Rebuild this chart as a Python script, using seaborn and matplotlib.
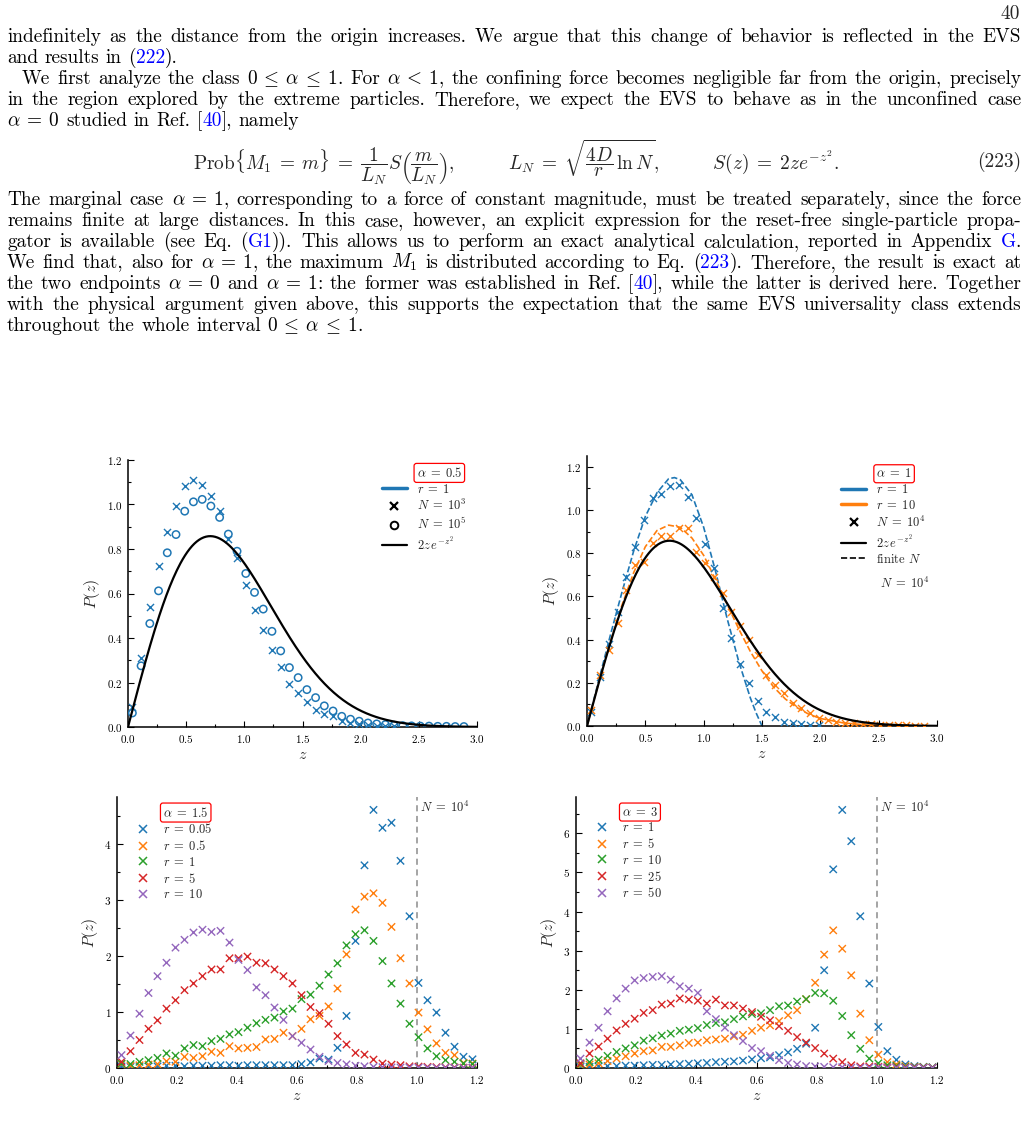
"""Page 40: EVS text block and the four P(z) panels."""
import matplotlib
matplotlib.use("Agg")
import matplotlib.pyplot as plt
import numpy as np
import pandas as pd
import seaborn as sns
from matplotlib.lines import Line2D
from matplotlib.ticker import MultipleLocator
from matplotlib.transforms import IdentityTransform, blended_transform_factory


# ---------------------------------------------------------------- data ----
# bin centres of the histograms (top panels: width 0.075, bottom: 0.03)
Z_TOP = [0.0375, 0.1125, 0.1875, 0.2625, 0.3375, 0.4125, 0.4875, 0.5625,
         0.6375, 0.7125, 0.7875, 0.8625, 0.9375, 1.0125, 1.0875, 1.1625,
         1.2375, 1.3125, 1.3875, 1.4625, 1.5375, 1.6125, 1.6875, 1.7625,
         1.8375, 1.9125, 1.9875, 2.0625, 2.1375, 2.2125, 2.2875, 2.3625,
         2.4375, 2.5125, 2.5875, 2.6625, 2.7375, 2.8125, 2.8875]
Z_BOT = [0.015, 0.045, 0.075, 0.105, 0.135, 0.165, 0.195, 0.225, 0.255,
         0.285, 0.315, 0.345, 0.375, 0.405, 0.435, 0.465, 0.495, 0.525,
         0.555, 0.585, 0.615, 0.645, 0.675, 0.705, 0.735, 0.765, 0.795,
         0.825, 0.855, 0.885, 0.915, 0.945, 0.975, 1.005, 1.035, 1.065,
         1.095, 1.125, 1.155, 1.185]

# alpha = 0.5, r = 1
A05_N1E3 = [0.09, 0.312, 0.54, 0.725, 0.877, 0.995, 1.085, 1.108, 1.087,
            1.038, 0.97, 0.843, 0.76, 0.64, 0.528, 0.435, 0.345, 0.27,
            0.195, 0.155, 0.113, 0.075, 0.06, 0.048, 0.027, 0.018, 0.013,
            0.008, 0.006, 0.004, 0.003]
A05_N1E5 = [0.063, 0.275, 0.465, 0.612, 0.783, 0.865, 0.97, 1.012, 1.023,
            0.993, 0.942, 0.867, 0.79, 0.69, 0.605, 0.53, 0.43, 0.342,
            0.267, 0.222, 0.168, 0.132, 0.095, 0.072, 0.048, 0.035, 0.026,
            0.018, 0.014, 0.011, 0.008, 0.006, 0.005, 0.004, 0.004, 0.003,
            0.003, 0.002, 0.002]

# alpha = 1, N = 1e4
A1_R1 = [0.066, 0.228, 0.38, 0.53, 0.69, 0.83, 0.953, 1.054, 1.072, 1.112,
         1.118, 1.058, 0.964, 0.842, 0.733, 0.548, 0.406, 0.287, 0.197,
         0.116, 0.063, 0.04, 0.02, 0.012, 0.008, 0.005, 0.003]
A1_R10 = [0.074, 0.236, 0.35, 0.475, 0.63, 0.745, 0.76, 0.845, 0.879, 0.879,
          0.915, 0.915, 0.807, 0.753, 0.69, 0.614, 0.53, 0.464, 0.398, 0.329,
          0.236, 0.19, 0.151, 0.105, 0.082, 0.059, 0.039, 0.028, 0.02, 0.015,
          0.012, 0.009, 0.007, 0.005, 0.004, 0.003, 0.003, 0.002, 0.002]
FIN_R1_Z = [0.0, 0.1, 0.2, 0.3, 0.4, 0.5, 0.6, 0.7, 0.75, 0.8, 0.9, 1.0,
            1.1, 1.2, 1.3, 1.4, 1.45, 1.5]
FIN_R1_P = [0.0, 0.21, 0.42, 0.62, 0.81, 0.97, 1.08, 1.145, 1.15, 1.14,
            1.07, 0.92, 0.72, 0.50, 0.30, 0.13, 0.06, 0.0]
FIN_R10_Z = [0.0, 0.1, 0.2, 0.3, 0.4, 0.5, 0.6, 0.7, 0.8, 0.9, 1.0, 1.1,
             1.2, 1.3, 1.4, 1.5, 1.6, 1.7, 1.8, 1.9, 2.0, 2.2, 2.4, 2.6, 2.9]
FIN_R10_P = [0.0, 0.20, 0.39, 0.56, 0.71, 0.83, 0.905, 0.93, 0.92, 0.87,
             0.79, 0.68, 0.565, 0.45, 0.345, 0.255, 0.18, 0.125, 0.085,
             0.055, 0.035, 0.014, 0.005, 0.002, 0.0]

# alpha = 1.5, N = 1e4
A15_LABELS = [r"$r\;=\;0.05$", r"$r\;=\;0.5$", r"$r\;=\;1$", r"$r\;=\;5$",
              r"$r\;=\;10$"]
A15_R005 = [0.03, 0.02, 0.03, 0.03, 0.03, 0.04, 0.04, 0.03, 0.04, 0.04,
            0.04, 0.05, 0.05, 0.04, 0.05, 0.05, 0.05, 0.05, 0.05, 0.05,
            0.07, 0.10, 0.17, 0.15, 0.36, 0.93, 2.27, 3.62, 4.61, 4.29,
            4.38, 3.70, 2.71, 1.52, 1.21, 0.99, 0.63, 0.38, 0.20, 0.155]
A15_R05 = [0.07, 0.04, 0.05, 0.06, 0.07, 0.12, 0.11, 0.20, 0.18, 0.21,
           0.29, 0.27, 0.39, 0.35, 0.36, 0.375, 0.51, 0.52, 0.63, 0.57,
           0.70, 0.87, 0.93, 1.10, 1.42, 2.03, 2.83, 3.06, 3.12, 2.95,
           2.52, 1.96, 1.51, 0.99, 0.69, 0.44, 0.27, 0.23, 0.09, 0.08]
A15_R1 = [0.08, 0.07, 0.11, 0.14, 0.18, 0.26, 0.22, 0.35, 0.41, 0.39,
          0.48, 0.52, 0.60, 0.64, 0.72, 0.80, 0.86, 0.90, 1.01, 1.06,
          1.23, 1.31, 1.47, 1.67, 1.87, 2.19, 2.39, 2.46, 2.27, 1.91,
          1.51, 1.15, 0.79, 0.55, 0.35, 0.21, 0.14, 0.11, 0.08, 0.07]
A15_R5 = [0.11, 0.30, 0.50, 0.70, 0.85, 1.06, 1.21, 1.39, 1.51, 1.64,
          1.76, 1.76, 1.96, 1.96, 1.99, 1.88, 1.87, 1.76, 1.64, 1.51,
          1.30, 1.09, 0.98, 0.79, 0.57, 0.42, 0.27, 0.24, 0.15, 0.08,
          0.06, 0.05, 0.03, 0.025, 0.02, 0.015, 0.01, 0.01, 0.005, 0.005]
A15_R10 = [0.23, 0.58, 0.97, 1.34, 1.64, 1.88, 2.15, 2.29, 2.42, 2.47,
           2.43, 2.45, 2.24, 1.93, 1.75, 1.44, 1.30, 1.08, 0.86, 0.57,
           0.45, 0.33, 0.20, 0.125, 0.09, 0.065, 0.04, 0.03, 0.02, 0.015,
           0.01, 0.01, 0.008, 0.006, 0.005, 0.004, 0.003, 0.003, 0.002, 0.002]

# alpha = 3, N = 1e4
A3_LABELS = [r"$r\;=\;1$", r"$r\;=\;5$", r"$r\;=\;10$", r"$r\;=\;25$",
             r"$r\;=\;50$"]
A3_R1 = [0.03, 0.03, 0.04, 0.05, 0.05, 0.06, 0.06, 0.07, 0.08, 0.08,
         0.09, 0.10, 0.11, 0.12, 0.13, 0.15, 0.16, 0.17, 0.19, 0.22,
         0.25, 0.27, 0.33, 0.40, 0.49, 0.62, 1.03, 2.50, 5.08, 6.60,
         5.80, 3.88, 2.16, 1.05, 0.43, 0.21, 0.09, 0.05, 0.03, 0.02]
A3_R5 = [0.07, 0.09, 0.12, 0.18, 0.24, 0.30, 0.37, 0.43, 0.45, 0.54,
         0.54, 0.58, 0.64, 0.65, 0.71, 0.73, 0.75, 0.81, 0.85, 0.95,
         1.03, 1.09, 1.20, 1.35, 1.48, 1.76, 2.18, 2.90, 3.52, 3.05,
         2.37, 1.39, 0.71, 0.34, 0.15, 0.09, 0.05, 0.03, 0.02, 0.01]
A3_R10 = [0.10, 0.15, 0.21, 0.31, 0.41, 0.50, 0.58, 0.70, 0.76, 0.83,
          0.88, 0.95, 0.98, 1.02, 1.10, 1.15, 1.17, 1.25, 1.32, 1.38,
          1.40, 1.48, 1.58, 1.60, 1.70, 1.76, 1.92, 1.91, 1.72, 1.33,
          0.84, 0.49, 0.24, 0.12, 0.07, 0.05, 0.03, 0.02, 0.02, 0.01]
A3_R25 = [0.12, 0.37, 0.55, 0.75, 0.96, 1.13, 1.26, 1.41, 1.48, 1.62,
          1.65, 1.78, 1.75, 1.72, 1.65, 1.75, 1.60, 1.60, 1.52, 1.43,
          1.31, 1.22, 1.07, 0.95, 0.79, 0.65, 0.51, 0.37, 0.24, 0.15,
          0.07, 0.04, 0.04, 0.03, 0.02, 0.02, 0.01, 0.01, 0.01, 0.005]
A3_R50 = [0.24, 0.65, 1.03, 1.45, 1.78, 2.03, 2.24, 2.30, 2.33, 2.35,
          2.26, 2.09, 2.03, 1.92, 1.45, 1.25, 1.03, 0.84, 0.69, 0.51,
          0.43, 0.31, 0.20, 0.13, 0.09, 0.05, 0.04, 0.03, 0.02, 0.02,
          0.01, 0.01, 0.01, 0.01, 0.005, 0.005, 0.005, 0.003, 0.003, 0.003]

# the limiting law S(z) = 2 z exp(-z^2) named in the legends
Z_CURVE = np.linspace(0.0, 3.0, 301)
S_CURVE = 2 * Z_CURVE * np.exp(-Z_CURVE ** 2)

# ---------------------------------------------------------------- text ----
EQ = r"\:=\:"
LE = r"\:\leq\:"
PARA_1 = [
    ("indefinitely as the distance from the origin increases. We argue that "
     "this change of behavior is reflected in the EVS", 0, True),
    ("and results in (@222@).", 0, False),
    (f"We first analyze the class $0{LE}\\alpha{LE}1$. For $\\alpha\\:<\\:1$, the "
     "confining force becomes negligible far from the origin, precisely", 15, True),
    ("in the region explored by the extreme particles. Therefore, we expect "
     "the EVS to behave as in the unconfined case", 0, True),
    (f"$\\alpha{EQ}0$ studied in Ref. [@40@], namely", 0, False),
]
PARA_2 = [
    (f"The marginal case $\\alpha{EQ}1$, corresponding to a force of constant "
     "magnitude, must be treated separately, since the force", 0, True),
    ("remains finite at large distances. In this case, however, an explicit "
     "expression for the reset-free single-particle propa-", 0, True),
    ("gator is available (see Eq. (@G1@)). This allows us to perform an exact "
     "analytical calculation, reported in Appendix @G@.", 0, True),
    (f"We find that, also for $\\alpha{EQ}1$, the maximum $M_1$ is distributed "
     "according to Eq. (@223@). Therefore, the result is exact at", 0, True),
    (f"the two endpoints $\\alpha{EQ}0$ and $\\alpha{EQ}1$: the former was "
     "established in Ref. [@40@], while the latter is derived here. Together", 0, True),
    ("with the physical argument given above, this supports the expectation "
     "that the same EVS universality class extends", 0, True),
    (f"throughout the whole interval $0{LE}\\alpha{LE}1$.", 0, False),
]
EQUATION = (r"$\mathrm{Prob}\{M_1\:=\:m\}\;=\;\dfrac{1}{L_N}S\left(\dfrac{m}{L_N}\right),"
            r"\qquad\quad L_N\;=\;\sqrt{\dfrac{4D}{r}\,\ln N},\qquad\quad S(z)\;=\;2ze^{-z^2}.$")

# --------------------------------------------------------------- style ----
W, H = 1028, 1138
TAB = ["#1f77b4", "#ff7f0e", "#2ca02c", "#d62728", "#9467bd"]
LINK = "#0000ff"
TEXT_FS = 13.9
SERIF = ["cmr10", "DejaVu Serif"]
FS = {"tick": 8, "label": 11.5, "legend": 9}

sns.set_style("ticks")
plt.rcParams.update({
    "font.family": SERIF,
    "mathtext.fontset": "cm",
    "axes.formatter.use_mathtext": True,
    "axes.linewidth": 1.1,
    "axes.edgecolor": "black",
    "xtick.color": "black",
    "ytick.color": "black",
})


def put_line(fig, line, y_top, indent=0, justify=True):
    """Draw one justified line of the paragraph; @...@ marks blue links."""
    renderer = fig.canvas.get_renderer()
    words = []
    for token in line.split(" "):
        parts = token.split("@")
        arts = []
        for i, seg in enumerate(parts):
            if not seg:
                continue
            t = fig.text(0, 0, seg, color=LINK if i % 2 else "black",
                         fontsize=TEXT_FS, family=SERIF, ha="left",
                         va="baseline", transform=IdentityTransform())
            arts.append((t, t.get_window_extent(renderer).width))
        words.append(arts)
    widths = [sum(w for _, w in arts) for arts in words]
    x0 = 7 + indent
    if justify and len(words) > 1:
        gap = (1021 - x0 - sum(widths)) / (len(words) - 1)
    else:
        gap = TEXT_FS * 100 / 72 * 0.34
    x = x0
    for arts in words:
        for t, w in arts:
            t.set_position((x, H - y_top))
            x += w
        x += gap


def style_axes(ax, xmaj, xmin, ymaj, ymin):
    ax.xaxis.set_major_locator(MultipleLocator(xmaj))
    ax.xaxis.set_minor_locator(MultipleLocator(xmin))
    ax.yaxis.set_major_locator(MultipleLocator(ymaj))
    ax.yaxis.set_minor_locator(MultipleLocator(ymin))
    ax.tick_params(which="both", direction="in", labelsize=FS["tick"],
                   width=0.8, pad=4)
    ax.tick_params(which="major", length=4)
    ax.tick_params(which="minor", length=2)
    ax.set_xlabel("$z$", fontsize=FS["label"], labelpad=3)
    ax.set_ylabel("$P(z)$", fontsize=FS["label"], labelpad=3)
    sns.despine(ax=ax)


def box_first_label(leg):
    leg.get_texts()[0].set_bbox(dict(boxstyle="round,pad=0.2", fc="white",
                                     ec="red", lw=0.9))


def blank():
    return Line2D([], [], linestyle="none")


fig = plt.figure(figsize=(W / 100, H / 100), dpi=100)

# ---------------------------------------------------------- text block ----
fig.text(1020, H - 19, "40", fontsize=TEXT_FS, family=SERIF, ha="right",
         va="baseline", transform=IdentityTransform())
for i, (line, indent, just) in enumerate(PARA_1):
    put_line(fig, line, 42 + 21 * i, indent, just)
fig.text(516, H - 162, EQUATION, fontsize=TEXT_FS, ha="center", va="center",
         transform=IdentityTransform())
fig.text(1021, H - 167, "(223)", fontsize=TEXT_FS, family=SERIF, ha="right",
         va="baseline", transform=IdentityTransform())
for i, (line, indent, just) in enumerate(PARA_2):
    put_line(fig, line, 205 + 21 * i, indent, just)

LEG_KW = dict(frameon=False, fontsize=FS["legend"], handlelength=2.0,
              handletextpad=0.8, labelspacing=0.22)

# ------------------------------------------------------ panel alpha=0.5 ----
ax1 = fig.add_axes([128 / W, 1 - 727 / H, 349 / W, 267 / H])
ax1.scatter(Z_TOP[:len(A05_N1E3)], A05_N1E3, marker="x", s=26,
            color=TAB[0], linewidths=1.0, zorder=3)
ax1.scatter(Z_TOP[:len(A05_N1E5)], A05_N1E5, marker="o", s=28,
            facecolors="none", edgecolors=TAB[0], linewidths=1.1, zorder=3)
sns.lineplot(x=Z_CURVE, y=S_CURVE, color="black", linewidth=1.6, ax=ax1,
             sort=False, estimator=None, zorder=4)
ax1.set_xlim(0, 3.0)
ax1.set_ylim(0, 1.2)
style_axes(ax1, 0.5, 0.25, 0.2, 0.1)
leg = ax1.legend(
    handles=[blank(),
             Line2D([], [], color=TAB[0], lw=2.5),
             Line2D([], [], color="black", marker="x", ls="none", ms=6, mew=1.6),
             Line2D([], [], color="black", marker="o", ls="none", ms=5.5,
                    mfc="none", mew=1.4),
             Line2D([], [], color="black", lw=1.6)],
    labels=[r"$\alpha\;=\;0.5$", r"$r\;=\;1$", r"$N\;=\;10^3$",
            r"$N\;=\;10^5$", r"$2z\,e^{-z^2}$"],
    loc="upper right", bbox_to_anchor=(1.0, 1.02), **LEG_KW)
box_first_label(leg)

# -------------------------------------------------------- panel alpha=1 ----
ax2 = fig.add_axes([587 / W, 1 - 726 / H, 350 / W, 270 / H])
ax2.scatter(Z_TOP[:len(A1_R1)], A1_R1, marker="x", s=26, color=TAB[0],
            linewidths=1.0, zorder=3)
ax2.scatter(Z_TOP[:len(A1_R10)], A1_R10, marker="x", s=26, color=TAB[1],
            linewidths=1.0, zorder=3)
sns.lineplot(x=FIN_R1_Z, y=FIN_R1_P, color=TAB[0], linewidth=1.2,
             linestyle="--", ax=ax2, sort=False, estimator=None, zorder=2)
sns.lineplot(x=FIN_R10_Z, y=FIN_R10_P, color=TAB[1], linewidth=1.2,
             linestyle="--", ax=ax2, sort=False, estimator=None, zorder=2)
sns.lineplot(x=Z_CURVE, y=S_CURVE, color="black", linewidth=1.6, ax=ax2,
             sort=False, estimator=None, zorder=4)
ax2.set_xlim(0, 3.0)
ax2.set_ylim(0, 1.25)
style_axes(ax2, 0.5, 0.25, 0.2, 0.1)
leg = ax2.legend(
    handles=[blank(),
             Line2D([], [], color=TAB[0], lw=2.5),
             Line2D([], [], color=TAB[1], lw=2.5),
             Line2D([], [], color="black", marker="x", ls="none", ms=6, mew=1.6),
             Line2D([], [], color="black", lw=1.6),
             Line2D([], [], color="black", lw=1.2, ls="--")],
    labels=[r"$\alpha\;=\;1$", r"$r\;=\;1$", r"$r\;=\;10$", r"$N\;=\;10^4$",
            r"$2z\,e^{-z^2}$", r"finite $N$"],
    loc="upper right", bbox_to_anchor=(1.0, 1.0), **LEG_KW)
box_first_label(leg)
ax2.text(2.72, 0.66, r"$N\;=\;10^4$", fontsize=FS["legend"], ha="center",
         va="center")


# ---------------------------------------------------- bottom two panels ----
def bottom_panel(rect, series, labels, alpha_label, ytop, ymaj):
    ax = fig.add_axes(rect)
    df = pd.DataFrame({
        "z": Z_BOT * len(series),
        "P": [p for s in series for p in s],
        "r": [lab for lab, s in zip(labels, series) for _ in s],
    })
    sns.scatterplot(data=df, x="z", y="P", hue="r", hue_order=labels,
                    palette=TAB, marker="x", s=28, linewidth=1.0,
                    legend=False, ax=ax, zorder=3)
    ax.axvline(1.0, color="#8c8c8c", lw=1.1, ls=(0, (4, 3)), zorder=1)
    ax.text(1.01, 0.99, r"$N\;=\;10^4$", fontsize=FS["legend"], ha="left",
            va="top", transform=blended_transform_factory(ax.transData,
                                                          ax.transAxes))
    ax.set_xlim(0, 1.2)
    ax.set_ylim(0, ytop)
    style_axes(ax, 0.2, 0.1, ymaj, ymaj / 2)
    handles = [blank()] + [
        Line2D([], [], color=c, marker="x", ls="none", ms=6, mew=1.1)
        for c in TAB]
    leg = ax.legend(handles=handles, labels=[alpha_label] + labels,
                    loc="upper left", bbox_to_anchor=(0.02, 1.01),
                    frameon=False, fontsize=FS["legend"], handlelength=1.2,
                    handletextpad=1.0, labelspacing=0.22)
    box_first_label(leg)
    return ax


bottom_panel([117 / W, 1 - 1068 / H, 360 / W, 271 / H],
             [A15_R005, A15_R05, A15_R1, A15_R5, A15_R10], A15_LABELS,
             r"$\alpha\;=\;1.5$", 4.84, 1)
bottom_panel([576 / W, 1 - 1068 / H, 361 / W, 271 / H],
             [A3_R1, A3_R5, A3_R10, A3_R25, A3_R50], A3_LABELS,
             r"$\alpha\;=\;3$", 6.93, 1)

fig.savefig("out.png", dpi=100)
